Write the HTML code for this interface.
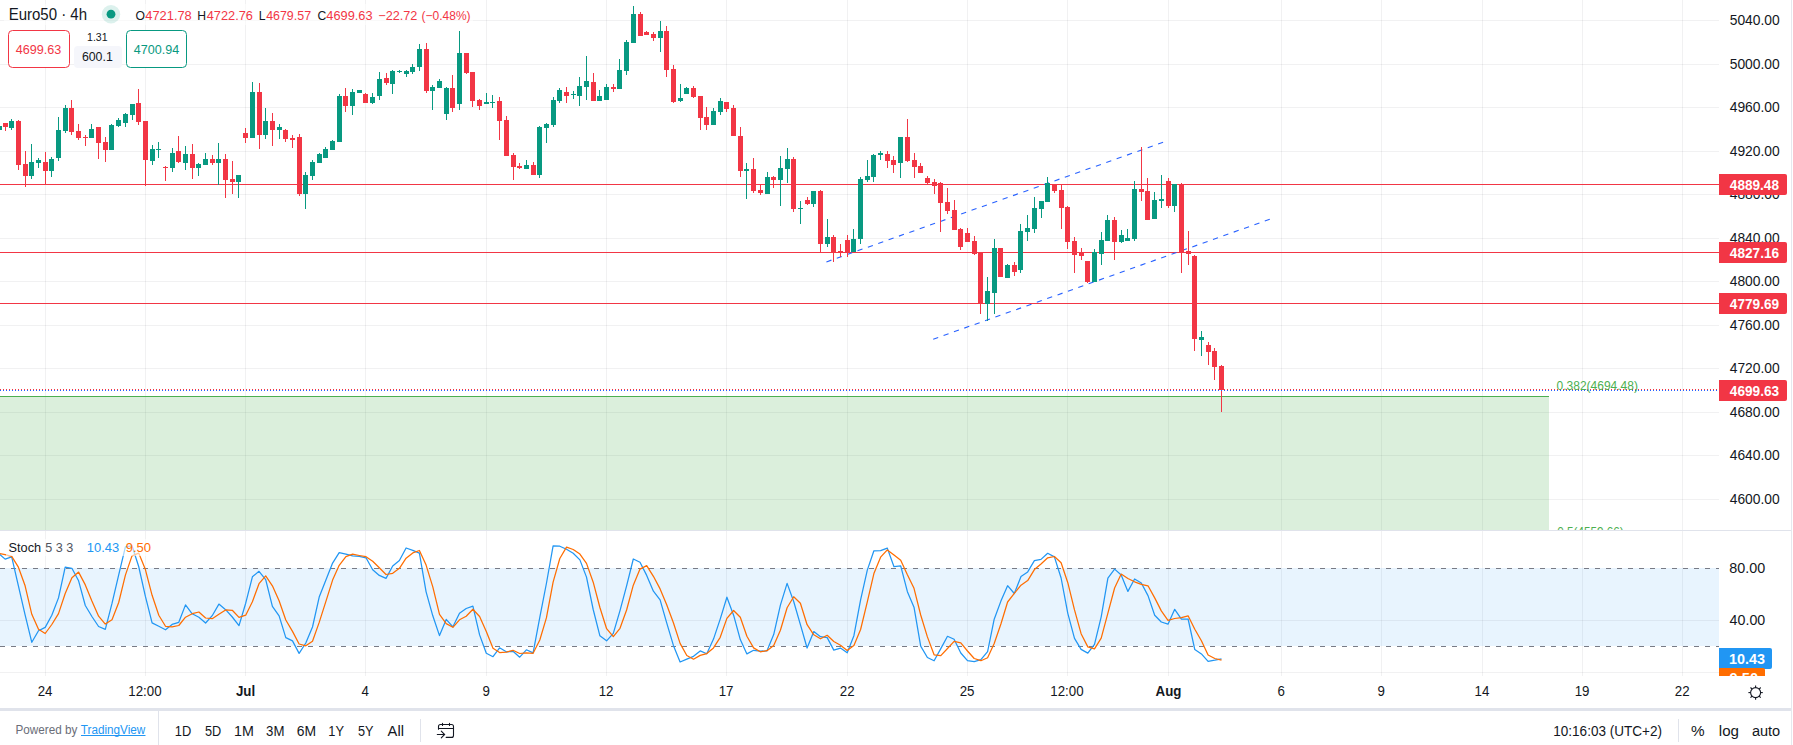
<!DOCTYPE html>
<html><head><meta charset="utf-8"><title>Euro50 chart</title><style>
html,body{margin:0;padding:0;background:#fff;}
body{width:1793px;height:745px;overflow:hidden;position:relative;font-family:"Liberation Sans",sans-serif;}
svg{position:absolute;left:0;top:0;display:block;font-family:"Liberation Sans",sans-serif;}
</style></head><body>
<svg width="1793" height="745" viewBox="0 0 1793 745">
<rect x="0" y="499" width="1719" height="1" fill="#2a2e39" fill-opacity="0.065"/>
<rect x="0" y="455" width="1719" height="1" fill="#2a2e39" fill-opacity="0.065"/>
<rect x="0" y="412" width="1719" height="1" fill="#2a2e39" fill-opacity="0.065"/>
<rect x="0" y="368" width="1719" height="1" fill="#2a2e39" fill-opacity="0.065"/>
<rect x="0" y="325" width="1719" height="1" fill="#2a2e39" fill-opacity="0.065"/>
<rect x="0" y="281" width="1719" height="1" fill="#2a2e39" fill-opacity="0.065"/>
<rect x="0" y="238" width="1719" height="1" fill="#2a2e39" fill-opacity="0.065"/>
<rect x="0" y="194" width="1719" height="1" fill="#2a2e39" fill-opacity="0.065"/>
<rect x="0" y="151" width="1719" height="1" fill="#2a2e39" fill-opacity="0.065"/>
<rect x="0" y="107" width="1719" height="1" fill="#2a2e39" fill-opacity="0.065"/>
<rect x="0" y="64" width="1719" height="1" fill="#2a2e39" fill-opacity="0.065"/>
<rect x="0" y="20" width="1719" height="1" fill="#2a2e39" fill-opacity="0.065"/>
<rect x="45" y="0" width="1" height="530" fill="#2a2e39" fill-opacity="0.065"/>
<rect x="45" y="531" width="1" height="145" fill="#2a2e39" fill-opacity="0.065"/>
<rect x="145" y="0" width="1" height="530" fill="#2a2e39" fill-opacity="0.065"/>
<rect x="145" y="531" width="1" height="145" fill="#2a2e39" fill-opacity="0.065"/>
<rect x="245" y="0" width="1" height="530" fill="#2a2e39" fill-opacity="0.065"/>
<rect x="245" y="531" width="1" height="145" fill="#2a2e39" fill-opacity="0.065"/>
<rect x="365" y="0" width="1" height="530" fill="#2a2e39" fill-opacity="0.065"/>
<rect x="365" y="531" width="1" height="145" fill="#2a2e39" fill-opacity="0.065"/>
<rect x="486" y="0" width="1" height="530" fill="#2a2e39" fill-opacity="0.065"/>
<rect x="486" y="531" width="1" height="145" fill="#2a2e39" fill-opacity="0.065"/>
<rect x="606" y="0" width="1" height="530" fill="#2a2e39" fill-opacity="0.065"/>
<rect x="606" y="531" width="1" height="145" fill="#2a2e39" fill-opacity="0.065"/>
<rect x="726" y="0" width="1" height="530" fill="#2a2e39" fill-opacity="0.065"/>
<rect x="726" y="531" width="1" height="145" fill="#2a2e39" fill-opacity="0.065"/>
<rect x="847" y="0" width="1" height="530" fill="#2a2e39" fill-opacity="0.065"/>
<rect x="847" y="531" width="1" height="145" fill="#2a2e39" fill-opacity="0.065"/>
<rect x="967" y="0" width="1" height="530" fill="#2a2e39" fill-opacity="0.065"/>
<rect x="967" y="531" width="1" height="145" fill="#2a2e39" fill-opacity="0.065"/>
<rect x="1067" y="0" width="1" height="530" fill="#2a2e39" fill-opacity="0.065"/>
<rect x="1067" y="531" width="1" height="145" fill="#2a2e39" fill-opacity="0.065"/>
<rect x="1168" y="0" width="1" height="530" fill="#2a2e39" fill-opacity="0.065"/>
<rect x="1168" y="531" width="1" height="145" fill="#2a2e39" fill-opacity="0.065"/>
<rect x="1281" y="0" width="1" height="530" fill="#2a2e39" fill-opacity="0.065"/>
<rect x="1281" y="531" width="1" height="145" fill="#2a2e39" fill-opacity="0.065"/>
<rect x="1381" y="0" width="1" height="530" fill="#2a2e39" fill-opacity="0.065"/>
<rect x="1381" y="531" width="1" height="145" fill="#2a2e39" fill-opacity="0.065"/>
<rect x="1482" y="0" width="1" height="530" fill="#2a2e39" fill-opacity="0.065"/>
<rect x="1482" y="531" width="1" height="145" fill="#2a2e39" fill-opacity="0.065"/>
<rect x="1582" y="0" width="1" height="530" fill="#2a2e39" fill-opacity="0.065"/>
<rect x="1582" y="531" width="1" height="145" fill="#2a2e39" fill-opacity="0.065"/>
<rect x="1682" y="0" width="1" height="530" fill="#2a2e39" fill-opacity="0.065"/>
<rect x="1682" y="531" width="1" height="145" fill="#2a2e39" fill-opacity="0.065"/>
<rect x="0" y="396" width="1549" height="134" fill="#4caf50" fill-opacity="0.2"/>
<rect x="0" y="396" width="1549" height="1" fill="#4caf50"/>
<rect x="0" y="184" width="1719" height="1" fill="#f23645"/>
<rect x="0" y="252" width="1719" height="1" fill="#f23645"/>
<rect x="0" y="303" width="1719" height="1" fill="#f23645"/>
<line x1="826.4" y1="261.9" x2="1163.1" y2="142.3" stroke="#2962ff" stroke-width="1.1" stroke-dasharray="5.3,5.7"/>
<line x1="933.2" y1="339.2" x2="1270" y2="219.2" stroke="#2962ff" stroke-width="1.1" stroke-dasharray="5.3,5.7"/>
<g shape-rendering="crispEdges"><rect x="-1" y="126" width="1" height="5" fill="#089981"/><rect x="-3" y="126" width="5" height="4" fill="#089981"/><rect x="5" y="123" width="1" height="8" fill="#f23645"/><rect x="3" y="123" width="5" height="4" fill="#f23645"/><rect x="11" y="119" width="1" height="11" fill="#089981"/><rect x="9" y="121" width="5" height="7" fill="#089981"/><rect x="18" y="120" width="1" height="50" fill="#f23645"/><rect x="16" y="121" width="5" height="44" fill="#f23645"/><rect x="25" y="151" width="1" height="36" fill="#f23645"/><rect x="23" y="164" width="5" height="12" fill="#f23645"/><rect x="31" y="144" width="1" height="35" fill="#089981"/><rect x="29" y="162" width="5" height="14" fill="#089981"/><rect x="38" y="158" width="1" height="10" fill="#089981"/><rect x="36" y="160" width="5" height="3" fill="#089981"/><rect x="45" y="152" width="1" height="32" fill="#f23645"/><rect x="43" y="162" width="5" height="9" fill="#f23645"/><rect x="51" y="157" width="1" height="20" fill="#089981"/><rect x="49" y="159" width="5" height="12" fill="#089981"/><rect x="58" y="117" width="1" height="44" fill="#089981"/><rect x="56" y="130" width="5" height="28" fill="#089981"/><rect x="65" y="105" width="1" height="28" fill="#089981"/><rect x="63" y="108" width="5" height="23" fill="#089981"/><rect x="71" y="100" width="1" height="35" fill="#f23645"/><rect x="69" y="108" width="5" height="24" fill="#f23645"/><rect x="78" y="124" width="1" height="16" fill="#f23645"/><rect x="76" y="131" width="5" height="7" fill="#f23645"/><rect x="85" y="135" width="1" height="11" fill="#f23645"/><rect x="83" y="137" width="5" height="1" fill="#f23645"/><rect x="91" y="124" width="1" height="14" fill="#089981"/><rect x="89" y="129" width="5" height="9" fill="#089981"/><rect x="98" y="127" width="1" height="32" fill="#f23645"/><rect x="96" y="127" width="5" height="16" fill="#f23645"/><rect x="105" y="137" width="1" height="25" fill="#f23645"/><rect x="103" y="142" width="5" height="8" fill="#f23645"/><rect x="111" y="124" width="1" height="26" fill="#089981"/><rect x="109" y="125" width="5" height="25" fill="#089981"/><rect x="118" y="118" width="1" height="9" fill="#089981"/><rect x="116" y="120" width="5" height="6" fill="#089981"/><rect x="125" y="113" width="1" height="14" fill="#089981"/><rect x="123" y="114" width="5" height="9" fill="#089981"/><rect x="132" y="104" width="1" height="16" fill="#089981"/><rect x="130" y="104" width="5" height="11" fill="#089981"/><rect x="138" y="89" width="1" height="36" fill="#f23645"/><rect x="136" y="103" width="5" height="19" fill="#f23645"/><rect x="145" y="121" width="1" height="65" fill="#f23645"/><rect x="143" y="121" width="5" height="39" fill="#f23645"/><rect x="152" y="145" width="1" height="20" fill="#089981"/><rect x="150" y="149" width="5" height="12" fill="#089981"/><rect x="158" y="142" width="1" height="16" fill="#089981"/><rect x="156" y="149" width="5" height="1" fill="#089981"/><rect x="165" y="166" width="1" height="15" fill="#f23645"/><rect x="163" y="167" width="5" height="1" fill="#f23645"/><rect x="172" y="148" width="1" height="24" fill="#089981"/><rect x="170" y="153" width="5" height="15" fill="#089981"/><rect x="178" y="136" width="1" height="27" fill="#f23645"/><rect x="176" y="151" width="5" height="11" fill="#f23645"/><rect x="185" y="146" width="1" height="24" fill="#089981"/><rect x="183" y="154" width="5" height="9" fill="#089981"/><rect x="192" y="144" width="1" height="35" fill="#f23645"/><rect x="190" y="154" width="5" height="14" fill="#f23645"/><rect x="198" y="163" width="1" height="13" fill="#089981"/><rect x="196" y="164" width="5" height="4" fill="#089981"/><rect x="205" y="153" width="1" height="12" fill="#089981"/><rect x="203" y="159" width="5" height="6" fill="#089981"/><rect x="212" y="155" width="1" height="10" fill="#f23645"/><rect x="210" y="159" width="5" height="4" fill="#f23645"/><rect x="218" y="143" width="1" height="42" fill="#089981"/><rect x="216" y="159" width="5" height="4" fill="#089981"/><rect x="225" y="154" width="1" height="44" fill="#f23645"/><rect x="223" y="159" width="5" height="21" fill="#f23645"/><rect x="232" y="161" width="1" height="33" fill="#f23645"/><rect x="230" y="179" width="5" height="3" fill="#f23645"/><rect x="238" y="175" width="1" height="23" fill="#089981"/><rect x="236" y="175" width="5" height="7" fill="#089981"/><rect x="245" y="128" width="1" height="15" fill="#f23645"/><rect x="243" y="133" width="5" height="5" fill="#f23645"/><rect x="252" y="82" width="1" height="56" fill="#089981"/><rect x="250" y="92" width="5" height="46" fill="#089981"/><rect x="259" y="83" width="1" height="66" fill="#f23645"/><rect x="257" y="92" width="5" height="43" fill="#f23645"/><rect x="265" y="108" width="1" height="31" fill="#089981"/><rect x="263" y="121" width="5" height="14" fill="#089981"/><rect x="272" y="113" width="1" height="33" fill="#f23645"/><rect x="270" y="121" width="5" height="9" fill="#f23645"/><rect x="279" y="124" width="1" height="15" fill="#089981"/><rect x="277" y="127" width="5" height="3" fill="#089981"/><rect x="285" y="129" width="1" height="13" fill="#f23645"/><rect x="283" y="130" width="5" height="9" fill="#f23645"/><rect x="292" y="135" width="1" height="13" fill="#f23645"/><rect x="290" y="138" width="5" height="2" fill="#f23645"/><rect x="299" y="134" width="1" height="62" fill="#f23645"/><rect x="297" y="137" width="5" height="57" fill="#f23645"/><rect x="305" y="172" width="1" height="37" fill="#089981"/><rect x="303" y="175" width="5" height="19" fill="#089981"/><rect x="312" y="160" width="1" height="20" fill="#089981"/><rect x="310" y="162" width="5" height="14" fill="#089981"/><rect x="319" y="153" width="1" height="10" fill="#089981"/><rect x="317" y="154" width="5" height="9" fill="#089981"/><rect x="325" y="147" width="1" height="11" fill="#089981"/><rect x="323" y="149" width="5" height="9" fill="#089981"/><rect x="332" y="140" width="1" height="10" fill="#089981"/><rect x="330" y="141" width="5" height="9" fill="#089981"/><rect x="339" y="94" width="1" height="48" fill="#089981"/><rect x="337" y="96" width="5" height="46" fill="#089981"/><rect x="345" y="88" width="1" height="24" fill="#f23645"/><rect x="343" y="96" width="5" height="10" fill="#f23645"/><rect x="352" y="89" width="1" height="26" fill="#089981"/><rect x="350" y="92" width="5" height="14" fill="#089981"/><rect x="359" y="90" width="1" height="3" fill="#089981"/><rect x="357" y="90" width="5" height="3" fill="#089981"/><rect x="365" y="93" width="1" height="10" fill="#f23645"/><rect x="363" y="94" width="5" height="9" fill="#f23645"/><rect x="372" y="93" width="1" height="11" fill="#089981"/><rect x="370" y="97" width="5" height="6" fill="#089981"/><rect x="379" y="72" width="1" height="28" fill="#089981"/><rect x="377" y="79" width="5" height="17" fill="#089981"/><rect x="386" y="73" width="1" height="12" fill="#f23645"/><rect x="384" y="78" width="5" height="5" fill="#f23645"/><rect x="392" y="70" width="1" height="24" fill="#089981"/><rect x="390" y="71" width="5" height="13" fill="#089981"/><rect x="399" y="70" width="1" height="3" fill="#089981"/><rect x="397" y="71" width="5" height="1" fill="#089981"/><rect x="406" y="70" width="1" height="7" fill="#089981"/><rect x="404" y="71" width="5" height="3" fill="#089981"/><rect x="412" y="64" width="1" height="10" fill="#089981"/><rect x="410" y="67" width="5" height="5" fill="#089981"/><rect x="419" y="44" width="1" height="27" fill="#089981"/><rect x="417" y="49" width="5" height="18" fill="#089981"/><rect x="426" y="43" width="1" height="50" fill="#f23645"/><rect x="424" y="49" width="5" height="42" fill="#f23645"/><rect x="432" y="85" width="1" height="25" fill="#089981"/><rect x="430" y="87" width="5" height="4" fill="#089981"/><rect x="439" y="79" width="1" height="9" fill="#089981"/><rect x="437" y="81" width="5" height="7" fill="#089981"/><rect x="446" y="87" width="1" height="33" fill="#089981"/><rect x="444" y="88" width="5" height="26" fill="#089981"/><rect x="452" y="75" width="1" height="37" fill="#f23645"/><rect x="450" y="88" width="5" height="20" fill="#f23645"/><rect x="459" y="31" width="1" height="79" fill="#089981"/><rect x="457" y="53" width="5" height="51" fill="#089981"/><rect x="466" y="53" width="1" height="21" fill="#f23645"/><rect x="464" y="53" width="5" height="20" fill="#f23645"/><rect x="472" y="72" width="1" height="35" fill="#f23645"/><rect x="470" y="72" width="5" height="29" fill="#f23645"/><rect x="479" y="99" width="1" height="11" fill="#f23645"/><rect x="477" y="100" width="5" height="6" fill="#f23645"/><rect x="486" y="93" width="1" height="11" fill="#089981"/><rect x="484" y="102" width="5" height="2" fill="#089981"/><rect x="492" y="95" width="1" height="13" fill="#089981"/><rect x="490" y="102" width="5" height="1" fill="#089981"/><rect x="499" y="97" width="1" height="43" fill="#f23645"/><rect x="497" y="101" width="5" height="20" fill="#f23645"/><rect x="506" y="116" width="1" height="40" fill="#f23645"/><rect x="504" y="120" width="5" height="36" fill="#f23645"/><rect x="513" y="153" width="1" height="27" fill="#f23645"/><rect x="511" y="155" width="5" height="12" fill="#f23645"/><rect x="519" y="163" width="1" height="6" fill="#f23645"/><rect x="517" y="166" width="5" height="2" fill="#f23645"/><rect x="526" y="160" width="1" height="9" fill="#089981"/><rect x="524" y="165" width="5" height="4" fill="#089981"/><rect x="533" y="162" width="1" height="13" fill="#f23645"/><rect x="531" y="165" width="5" height="10" fill="#f23645"/><rect x="539" y="126" width="1" height="52" fill="#089981"/><rect x="537" y="127" width="5" height="48" fill="#089981"/><rect x="546" y="123" width="1" height="20" fill="#089981"/><rect x="544" y="124" width="5" height="4" fill="#089981"/><rect x="553" y="97" width="1" height="30" fill="#089981"/><rect x="551" y="100" width="5" height="25" fill="#089981"/><rect x="559" y="88" width="1" height="15" fill="#089981"/><rect x="557" y="90" width="5" height="11" fill="#089981"/><rect x="566" y="87" width="1" height="16" fill="#f23645"/><rect x="564" y="92" width="5" height="4" fill="#f23645"/><rect x="573" y="91" width="1" height="8" fill="#089981"/><rect x="571" y="94" width="5" height="1" fill="#089981"/><rect x="579" y="77" width="1" height="29" fill="#089981"/><rect x="577" y="86" width="5" height="10" fill="#089981"/><rect x="586" y="56" width="1" height="44" fill="#089981"/><rect x="584" y="81" width="5" height="6" fill="#089981"/><rect x="593" y="73" width="1" height="28" fill="#f23645"/><rect x="591" y="82" width="5" height="19" fill="#f23645"/><rect x="599" y="90" width="1" height="11" fill="#089981"/><rect x="597" y="96" width="5" height="5" fill="#089981"/><rect x="606" y="84" width="1" height="16" fill="#089981"/><rect x="604" y="87" width="5" height="13" fill="#089981"/><rect x="613" y="84" width="1" height="8" fill="#f23645"/><rect x="611" y="87" width="5" height="2" fill="#f23645"/><rect x="619" y="59" width="1" height="30" fill="#089981"/><rect x="617" y="70" width="5" height="19" fill="#089981"/><rect x="626" y="40" width="1" height="35" fill="#089981"/><rect x="624" y="42" width="5" height="29" fill="#089981"/><rect x="633" y="6" width="1" height="37" fill="#089981"/><rect x="631" y="14" width="5" height="29" fill="#089981"/><rect x="640" y="12" width="1" height="24" fill="#f23645"/><rect x="638" y="14" width="5" height="22" fill="#f23645"/><rect x="646" y="31" width="1" height="4" fill="#f23645"/><rect x="644" y="32" width="5" height="3" fill="#f23645"/><rect x="653" y="32" width="1" height="9" fill="#f23645"/><rect x="651" y="34" width="5" height="4" fill="#f23645"/><rect x="660" y="21" width="1" height="31" fill="#089981"/><rect x="658" y="31" width="5" height="7" fill="#089981"/><rect x="666" y="26" width="1" height="51" fill="#f23645"/><rect x="664" y="31" width="5" height="39" fill="#f23645"/><rect x="673" y="65" width="1" height="38" fill="#f23645"/><rect x="671" y="69" width="5" height="33" fill="#f23645"/><rect x="680" y="84" width="1" height="18" fill="#089981"/><rect x="678" y="98" width="5" height="3" fill="#089981"/><rect x="686" y="87" width="1" height="7" fill="#089981"/><rect x="684" y="88" width="5" height="6" fill="#089981"/><rect x="693" y="86" width="1" height="12" fill="#f23645"/><rect x="691" y="88" width="5" height="9" fill="#f23645"/><rect x="700" y="96" width="1" height="34" fill="#f23645"/><rect x="698" y="96" width="5" height="22" fill="#f23645"/><rect x="706" y="107" width="1" height="23" fill="#f23645"/><rect x="704" y="117" width="5" height="8" fill="#f23645"/><rect x="713" y="108" width="1" height="17" fill="#089981"/><rect x="711" y="111" width="5" height="14" fill="#089981"/><rect x="720" y="98" width="1" height="17" fill="#089981"/><rect x="718" y="101" width="5" height="11" fill="#089981"/><rect x="726" y="102" width="1" height="10" fill="#f23645"/><rect x="724" y="102" width="5" height="7" fill="#f23645"/><rect x="733" y="105" width="1" height="31" fill="#f23645"/><rect x="731" y="108" width="5" height="28" fill="#f23645"/><rect x="740" y="127" width="1" height="50" fill="#f23645"/><rect x="738" y="136" width="5" height="35" fill="#f23645"/><rect x="746" y="163" width="1" height="36" fill="#089981"/><rect x="744" y="169" width="5" height="2" fill="#089981"/><rect x="753" y="158" width="1" height="35" fill="#f23645"/><rect x="751" y="169" width="5" height="22" fill="#f23645"/><rect x="760" y="184" width="1" height="11" fill="#f23645"/><rect x="758" y="190" width="5" height="3" fill="#f23645"/><rect x="767" y="172" width="1" height="22" fill="#089981"/><rect x="765" y="177" width="5" height="17" fill="#089981"/><rect x="773" y="176" width="1" height="12" fill="#f23645"/><rect x="771" y="177" width="5" height="3" fill="#f23645"/><rect x="780" y="156" width="1" height="50" fill="#089981"/><rect x="778" y="168" width="5" height="12" fill="#089981"/><rect x="787" y="148" width="1" height="35" fill="#089981"/><rect x="785" y="159" width="5" height="10" fill="#089981"/><rect x="793" y="157" width="1" height="55" fill="#f23645"/><rect x="791" y="159" width="5" height="50" fill="#f23645"/><rect x="800" y="201" width="1" height="23" fill="#089981"/><rect x="798" y="208" width="5" height="1" fill="#089981"/><rect x="807" y="197" width="1" height="8" fill="#f23645"/><rect x="805" y="200" width="5" height="4" fill="#f23645"/><rect x="813" y="191" width="1" height="16" fill="#089981"/><rect x="811" y="191" width="5" height="13" fill="#089981"/><rect x="820" y="190" width="1" height="62" fill="#f23645"/><rect x="818" y="191" width="5" height="53" fill="#f23645"/><rect x="827" y="219" width="1" height="28" fill="#089981"/><rect x="825" y="237" width="5" height="7" fill="#089981"/><rect x="833" y="235" width="1" height="27" fill="#f23645"/><rect x="831" y="237" width="5" height="15" fill="#f23645"/><rect x="840" y="244" width="1" height="13" fill="#f23645"/><rect x="838" y="251" width="5" height="2" fill="#f23645"/><rect x="847" y="235" width="1" height="22" fill="#f23645"/><rect x="845" y="240" width="5" height="12" fill="#f23645"/><rect x="853" y="229" width="1" height="23" fill="#089981"/><rect x="851" y="239" width="5" height="13" fill="#089981"/><rect x="860" y="177" width="1" height="67" fill="#089981"/><rect x="858" y="179" width="5" height="60" fill="#089981"/><rect x="867" y="160" width="1" height="22" fill="#089981"/><rect x="865" y="176" width="5" height="4" fill="#089981"/><rect x="873" y="154" width="1" height="28" fill="#089981"/><rect x="871" y="155" width="5" height="22" fill="#089981"/><rect x="880" y="151" width="1" height="9" fill="#089981"/><rect x="878" y="153" width="5" height="2" fill="#089981"/><rect x="887" y="151" width="1" height="17" fill="#f23645"/><rect x="885" y="154" width="5" height="7" fill="#f23645"/><rect x="893" y="156" width="1" height="17" fill="#f23645"/><rect x="891" y="160" width="5" height="5" fill="#f23645"/><rect x="900" y="137" width="1" height="41" fill="#089981"/><rect x="898" y="137" width="5" height="26" fill="#089981"/><rect x="907" y="119" width="1" height="43" fill="#f23645"/><rect x="905" y="137" width="5" height="24" fill="#f23645"/><rect x="914" y="153" width="1" height="25" fill="#f23645"/><rect x="912" y="160" width="5" height="7" fill="#f23645"/><rect x="920" y="163" width="1" height="10" fill="#f23645"/><rect x="918" y="166" width="5" height="7" fill="#f23645"/><rect x="927" y="176" width="1" height="9" fill="#f23645"/><rect x="925" y="178" width="5" height="5" fill="#f23645"/><rect x="934" y="179" width="1" height="15" fill="#f23645"/><rect x="932" y="182" width="5" height="4" fill="#f23645"/><rect x="940" y="182" width="1" height="50" fill="#f23645"/><rect x="938" y="183" width="5" height="20" fill="#f23645"/><rect x="947" y="188" width="1" height="26" fill="#f23645"/><rect x="945" y="202" width="5" height="9" fill="#f23645"/><rect x="954" y="200" width="1" height="30" fill="#f23645"/><rect x="952" y="210" width="5" height="20" fill="#f23645"/><rect x="960" y="228" width="1" height="22" fill="#f23645"/><rect x="958" y="229" width="5" height="18" fill="#f23645"/><rect x="967" y="228" width="1" height="14" fill="#f23645"/><rect x="965" y="233" width="5" height="9" fill="#f23645"/><rect x="974" y="236" width="1" height="19" fill="#f23645"/><rect x="972" y="241" width="5" height="13" fill="#f23645"/><rect x="980" y="252" width="1" height="62" fill="#f23645"/><rect x="978" y="252" width="5" height="52" fill="#f23645"/><rect x="987" y="277" width="1" height="44" fill="#089981"/><rect x="985" y="291" width="5" height="13" fill="#089981"/><rect x="994" y="239" width="1" height="75" fill="#089981"/><rect x="992" y="248" width="5" height="45" fill="#089981"/><rect x="1000" y="248" width="1" height="29" fill="#f23645"/><rect x="998" y="248" width="5" height="29" fill="#f23645"/><rect x="1007" y="264" width="1" height="14" fill="#089981"/><rect x="1005" y="265" width="5" height="13" fill="#089981"/><rect x="1014" y="262" width="1" height="14" fill="#f23645"/><rect x="1012" y="265" width="5" height="7" fill="#f23645"/><rect x="1020" y="224" width="1" height="49" fill="#089981"/><rect x="1018" y="231" width="5" height="39" fill="#089981"/><rect x="1027" y="215" width="1" height="26" fill="#089981"/><rect x="1025" y="228" width="5" height="4" fill="#089981"/><rect x="1034" y="197" width="1" height="36" fill="#089981"/><rect x="1032" y="208" width="5" height="21" fill="#089981"/><rect x="1041" y="201" width="1" height="17" fill="#089981"/><rect x="1039" y="201" width="5" height="8" fill="#089981"/><rect x="1047" y="177" width="1" height="25" fill="#089981"/><rect x="1045" y="183" width="5" height="19" fill="#089981"/><rect x="1054" y="184" width="1" height="9" fill="#f23645"/><rect x="1052" y="184" width="5" height="7" fill="#f23645"/><rect x="1061" y="185" width="1" height="44" fill="#f23645"/><rect x="1059" y="190" width="5" height="18" fill="#f23645"/><rect x="1067" y="206" width="1" height="43" fill="#f23645"/><rect x="1065" y="207" width="5" height="35" fill="#f23645"/><rect x="1074" y="237" width="1" height="36" fill="#f23645"/><rect x="1072" y="241" width="5" height="14" fill="#f23645"/><rect x="1081" y="248" width="1" height="12" fill="#f23645"/><rect x="1079" y="252" width="5" height="4" fill="#f23645"/><rect x="1087" y="261" width="1" height="22" fill="#f23645"/><rect x="1085" y="261" width="5" height="21" fill="#f23645"/><rect x="1094" y="249" width="1" height="33" fill="#089981"/><rect x="1092" y="252" width="5" height="30" fill="#089981"/><rect x="1101" y="232" width="1" height="33" fill="#089981"/><rect x="1099" y="240" width="5" height="14" fill="#089981"/><rect x="1107" y="215" width="1" height="26" fill="#089981"/><rect x="1105" y="220" width="5" height="21" fill="#089981"/><rect x="1114" y="217" width="1" height="43" fill="#f23645"/><rect x="1112" y="220" width="5" height="22" fill="#f23645"/><rect x="1121" y="230" width="1" height="13" fill="#089981"/><rect x="1119" y="235" width="5" height="7" fill="#089981"/><rect x="1127" y="229" width="1" height="12" fill="#089981"/><rect x="1125" y="238" width="5" height="3" fill="#089981"/><rect x="1134" y="181" width="1" height="60" fill="#089981"/><rect x="1132" y="189" width="5" height="50" fill="#089981"/><rect x="1141" y="147" width="1" height="54" fill="#f23645"/><rect x="1139" y="189" width="5" height="3" fill="#f23645"/><rect x="1147" y="178" width="1" height="42" fill="#f23645"/><rect x="1145" y="191" width="5" height="29" fill="#f23645"/><rect x="1154" y="192" width="1" height="27" fill="#089981"/><rect x="1152" y="200" width="5" height="19" fill="#089981"/><rect x="1161" y="175" width="1" height="33" fill="#089981"/><rect x="1159" y="199" width="5" height="2" fill="#089981"/><rect x="1168" y="178" width="1" height="30" fill="#f23645"/><rect x="1166" y="181" width="5" height="25" fill="#f23645"/><rect x="1174" y="184" width="1" height="28" fill="#089981"/><rect x="1172" y="184" width="5" height="22" fill="#089981"/><rect x="1181" y="183" width="1" height="90" fill="#f23645"/><rect x="1179" y="184" width="5" height="68" fill="#f23645"/><rect x="1188" y="231" width="1" height="34" fill="#f23645"/><rect x="1186" y="251" width="5" height="3" fill="#f23645"/><rect x="1194" y="255" width="1" height="96" fill="#f23645"/><rect x="1192" y="256" width="5" height="83" fill="#f23645"/><rect x="1201" y="331" width="1" height="25" fill="#089981"/><rect x="1199" y="337" width="5" height="3" fill="#089981"/><rect x="1208" y="342" width="1" height="23" fill="#f23645"/><rect x="1206" y="345" width="5" height="7" fill="#f23645"/><rect x="1214" y="348" width="1" height="32" fill="#f23645"/><rect x="1212" y="351" width="5" height="16" fill="#f23645"/><rect x="1221" y="365" width="1" height="47" fill="#f23645"/><rect x="1219" y="366" width="5" height="24" fill="#f23645"/></g>
<line x1="0" y1="389.5" x2="1719" y2="389.5" stroke="#f23645" stroke-width="1" stroke-dasharray="1,2" shape-rendering="crispEdges"/>
<line x1="0" y1="390.5" x2="1719" y2="390.5" stroke="#2962ff" stroke-width="1" stroke-dasharray="1,2" shape-rendering="crispEdges"/>
<rect x="0" y="530" width="1791" height="1" fill="#e0e3eb"/>
<rect x="0" y="568" width="1719" height="78" fill="#2196f3" fill-opacity="0.1"/>
<rect x="0" y="620" width="1719" height="1" fill="#2a2e39" fill-opacity="0.065"/>
<rect x="0" y="672" width="1719" height="1" fill="#2a2e39" fill-opacity="0.065"/>
<line x1="0" y1="568.5" x2="1719" y2="568.5" stroke="#787b86" stroke-width="1" stroke-dasharray="5,6" shape-rendering="crispEdges"/>
<line x1="0" y1="646.5" x2="1719" y2="646.5" stroke="#787b86" stroke-width="1" stroke-dasharray="5,6" shape-rendering="crispEdges"/>
<polyline points="-1.6,553.2 5.1,559.1 11.7,556.8 18.4,585.8 25.1,614.9 31.8,642.3 38.5,630.8 45.2,627.4 51.8,615.3 58.5,597.9 65.2,567.2 71.9,568.3 78.6,580.8 85.3,605.5 91.9,616.5 98.6,626.5 105.3,629.3 112.0,603.4 118.7,574.9 125.4,546.9 132.0,545.8 138.7,566.5 145.4,596.4 152.1,622.9 158.8,626.3 165.5,629.8 172.1,624.4 178.8,622.3 185.5,604.9 192.2,613.8 198.9,617.3 205.6,623.0 212.2,615.7 218.9,604.1 225.6,609.7 232.3,617.0 239.0,625.6 245.7,603.2 252.4,576.8 259.0,571.3 265.7,579.7 272.4,606.4 279.1,615.9 285.8,637.6 292.5,640.9 299.1,653.4 305.8,643.0 312.5,627.0 319.2,597.1 325.9,580.1 332.6,563.1 339.2,552.6 345.9,554.1 352.6,555.9 359.3,556.4 366.0,557.8 372.7,569.8 379.3,575.4 386.0,578.4 392.7,566.0 399.4,560.5 406.1,548.0 412.8,550.3 419.4,553.1 426.1,591.8 432.8,615.8 439.5,635.6 446.2,619.4 452.9,626.8 459.5,613.3 466.2,608.5 472.9,606.2 479.6,634.9 486.3,653.3 493.0,656.7 499.6,647.8 506.3,651.8 513.0,651.3 519.7,657.2 526.4,649.8 533.1,652.9 539.8,617.3 546.4,583.5 553.1,545.8 559.8,546.2 566.5,549.2 573.2,553.2 579.9,559.9 586.5,577.1 593.2,609.5 599.9,635.8 606.6,640.8 613.3,633.4 620.0,610.6 626.6,585.9 633.3,559.0 640.0,562.3 646.7,575.4 653.4,591.2 660.1,599.9 666.7,622.9 673.4,645.4 680.1,662.0 686.8,659.1 693.5,656.3 700.2,650.9 706.8,653.8 713.5,639.1 720.2,619.1 726.9,597.2 733.6,615.2 740.3,639.6 746.9,653.9 753.6,650.3 760.3,651.1 767.0,650.8 773.7,634.6 780.4,605.1 787.1,583.4 793.7,601.5 800.4,624.7 807.1,648.0 813.8,631.6 820.5,636.7 827.2,637.6 833.8,650.1 840.5,648.1 847.2,652.8 853.9,635.7 860.6,599.9 867.3,570.1 873.9,550.8 880.6,550.7 887.3,548.1 894.0,566.7 900.7,565.9 907.4,591.7 914.0,607.2 920.7,646.1 927.4,657.5 934.1,660.8 940.8,648.6 947.5,636.3 954.1,639.3 960.8,653.0 967.5,660.7 974.2,661.6 980.9,659.7 987.6,651.7 994.2,619.2 1000.9,601.1 1007.6,585.7 1014.3,593.5 1021.0,576.5 1027.7,571.9 1034.4,560.6 1041.0,559.4 1047.7,553.3 1054.4,556.9 1061.1,578.0 1067.8,613.3 1074.5,638.4 1081.1,649.4 1087.8,653.1 1094.5,644.3 1101.2,616.8 1107.9,578.1 1114.6,569.1 1121.2,575.0 1127.9,591.4 1134.6,579.0 1141.3,583.0 1148.0,595.6 1154.7,615.2 1161.3,622.0 1168.0,624.2 1174.7,609.3 1181.4,619.2 1188.1,619.0 1194.8,649.6 1201.4,653.9 1208.1,661.3 1214.8,660.2 1221.5,658.9" fill="none" stroke="#2196f3" stroke-width="1.25" stroke-linejoin="round"/>
<polyline points="-1.6,553.2 5.1,554.7 11.7,556.4 18.4,567.2 25.1,585.8 31.8,614.3 38.5,629.3 45.2,633.5 51.8,624.5 58.5,613.6 65.2,593.5 71.9,577.8 78.6,572.1 85.3,584.9 91.9,601.0 98.6,616.2 105.3,624.1 112.0,619.7 118.7,602.5 125.4,575.1 132.0,555.9 138.7,553.1 145.4,569.6 152.1,595.3 158.8,615.2 165.5,626.3 172.1,626.8 178.8,625.5 185.5,617.2 192.2,613.7 198.9,612.0 205.6,618.0 212.2,618.7 218.9,614.3 225.6,609.9 232.3,610.3 239.0,617.4 245.7,615.2 252.4,601.8 259.0,583.7 265.7,575.9 272.4,585.8 279.1,600.7 285.8,620.0 292.5,631.4 299.1,644.0 305.8,645.8 312.5,641.2 319.2,622.4 325.9,601.4 332.6,580.1 339.2,565.3 345.9,556.6 352.6,554.2 359.3,555.5 366.0,556.7 372.7,561.3 379.3,567.7 386.0,574.5 392.7,573.3 399.4,568.3 406.1,558.2 412.8,552.9 419.4,550.5 426.1,565.1 432.8,586.9 439.5,614.4 446.2,623.6 452.9,627.3 459.5,619.8 466.2,616.2 472.9,609.3 479.6,616.5 486.3,631.5 493.0,648.3 499.6,652.6 506.3,652.1 513.0,650.3 519.7,653.5 526.4,652.8 533.1,653.3 539.8,640.0 546.4,617.9 553.1,582.2 559.8,558.5 566.5,547.1 573.2,549.5 579.9,554.1 586.5,563.4 593.2,582.2 599.9,607.5 606.6,628.7 613.3,636.7 620.0,628.3 626.6,610.0 633.3,585.2 640.0,569.1 646.7,565.6 653.4,576.3 660.1,588.9 666.7,604.7 673.4,622.7 680.1,643.4 686.8,655.5 693.5,659.2 700.2,655.4 706.8,653.6 713.5,647.9 720.2,637.3 726.9,618.4 733.6,610.5 740.3,617.3 746.9,636.2 753.6,647.9 760.3,651.8 767.0,650.7 773.7,645.5 780.4,630.2 787.1,607.7 793.7,596.7 800.4,603.2 807.1,624.7 813.8,634.8 820.5,638.8 827.2,635.3 833.8,641.5 840.5,645.3 847.2,650.4 853.9,645.5 860.6,629.5 867.3,601.9 873.9,573.6 880.6,557.2 887.3,549.9 894.0,555.1 900.7,560.2 907.4,574.8 914.0,588.3 920.7,615.0 927.4,636.9 934.1,654.8 940.8,655.6 947.5,648.5 954.1,641.4 960.8,642.9 967.5,651.0 974.2,658.5 980.9,660.7 987.6,657.7 994.2,643.5 1000.9,624.0 1007.6,602.0 1014.3,593.4 1021.0,585.2 1027.7,580.6 1034.4,569.6 1041.0,564.0 1047.7,557.8 1054.4,556.5 1061.1,562.7 1067.8,582.7 1074.5,609.9 1081.1,633.7 1087.8,646.9 1094.5,648.9 1101.2,638.1 1107.9,613.1 1114.6,588.0 1121.2,574.1 1127.9,578.5 1134.6,581.8 1141.3,584.4 1148.0,585.8 1154.7,597.9 1161.3,610.9 1168.0,620.4 1174.7,618.5 1181.4,617.6 1188.1,615.8 1194.8,629.3 1201.4,640.8 1208.1,655.0 1214.8,658.5 1221.5,660.1" fill="none" stroke="#ff6d00" stroke-width="1.25" stroke-linejoin="round"/>
<rect x="0" y="708" width="1791" height="3" fill="#e0e3eb"/>
<rect x="1791" y="0" width="1" height="745" fill="#e6e8ee"/>
<rect x="158" y="711" width="1" height="34" fill="#e0e3eb"/>
<rect x="420" y="719" width="1" height="23" fill="#e0e3eb"/>
<rect x="1678" y="719" width="1" height="23" fill="#e0e3eb"/>
<circle cx="1755.6" cy="692.6" r="5" fill="none" stroke="#131722" stroke-width="1.1"/><line x1="1760.60" y1="692.60" x2="1762.80" y2="692.60" stroke="#131722" stroke-width="1.1"/><line x1="1759.14" y1="696.14" x2="1760.69" y2="697.69" stroke="#131722" stroke-width="1.1"/><line x1="1755.60" y1="697.60" x2="1755.60" y2="699.80" stroke="#131722" stroke-width="1.1"/><line x1="1752.06" y1="696.14" x2="1750.51" y2="697.69" stroke="#131722" stroke-width="1.1"/><line x1="1750.60" y1="692.60" x2="1748.40" y2="692.60" stroke="#131722" stroke-width="1.1"/><line x1="1752.06" y1="689.06" x2="1750.51" y2="687.51" stroke="#131722" stroke-width="1.1"/><line x1="1755.60" y1="687.60" x2="1755.60" y2="685.40" stroke="#131722" stroke-width="1.1"/><line x1="1759.14" y1="689.06" x2="1760.69" y2="687.51" stroke="#131722" stroke-width="1.1"/>
<g fill="none" stroke="#131722" stroke-width="1.1" stroke-linecap="round"><path d="M438.5 729.3V726.5a2 2 0 0 1 2 -2H451.5a2 2 0 0 1 2 2V735.4a2 2 0 0 1 -2 2H446.2"/><path d="M438.5 728.5H453.5"/><path d="M442.5 723.4V725.5M449.5 723.4V725.5"/><path d="M437.3 734.5H444.6M441.3 731.2L444.6 734.5L441.3 737.8"/></g>
<text x="1729.72" y="504.0" font-size="14.43" fill="#131722" textLength="49.98" lengthAdjust="spacingAndGlyphs">4600.00</text>
<text x="1729.72" y="460.0" font-size="14.43" fill="#131722" textLength="49.98" lengthAdjust="spacingAndGlyphs">4640.00</text>
<text x="1729.72" y="417.0" font-size="14.43" fill="#131722" textLength="49.98" lengthAdjust="spacingAndGlyphs">4680.00</text>
<text x="1729.72" y="373.0" font-size="14.43" fill="#131722" textLength="49.98" lengthAdjust="spacingAndGlyphs">4720.00</text>
<text x="1729.72" y="330.0" font-size="14.43" fill="#131722" textLength="49.98" lengthAdjust="spacingAndGlyphs">4760.00</text>
<text x="1729.72" y="286.0" font-size="14.43" fill="#131722" textLength="49.98" lengthAdjust="spacingAndGlyphs">4800.00</text>
<text x="1729.72" y="243.0" font-size="14.43" fill="#131722" textLength="49.98" lengthAdjust="spacingAndGlyphs">4840.00</text>
<text x="1729.72" y="199.0" font-size="14.43" fill="#131722" textLength="49.98" lengthAdjust="spacingAndGlyphs">4880.00</text>
<text x="1729.72" y="156.0" font-size="14.43" fill="#131722" textLength="49.98" lengthAdjust="spacingAndGlyphs">4920.00</text>
<text x="1729.72" y="112.0" font-size="14.43" fill="#131722" textLength="49.98" lengthAdjust="spacingAndGlyphs">4960.00</text>
<text x="1729.72" y="69.0" font-size="14.43" fill="#131722" textLength="49.98" lengthAdjust="spacingAndGlyphs">5000.00</text>
<text x="1729.72" y="25.0" font-size="14.43" fill="#131722" textLength="49.98" lengthAdjust="spacingAndGlyphs">5040.00</text>
<text x="1729.33" y="573.0" font-size="14.43" fill="#131722" textLength="35.89" lengthAdjust="spacingAndGlyphs">80.00</text>
<text x="1729.62" y="625.0" font-size="14.43" fill="#131722" textLength="35.60" lengthAdjust="spacingAndGlyphs">40.00</text>
<path d="M1719 174h66a2 2 0 0 1 2 2v17a2 2 0 0 1 -2 2h-66z" fill="#f23645"/>
<text x="1729.86" y="189.7" font-size="13.71" fill="#ffffff" font-weight="700" textLength="49.09" lengthAdjust="spacingAndGlyphs">4889.48</text>
<path d="M1719 242h66a2 2 0 0 1 2 2v17a2 2 0 0 1 -2 2h-66z" fill="#f23645"/>
<text x="1729.86" y="257.7" font-size="13.71" fill="#ffffff" font-weight="700" textLength="49.23" lengthAdjust="spacingAndGlyphs">4827.16</text>
<path d="M1719 293h66a2 2 0 0 1 2 2v17a2 2 0 0 1 -2 2h-66z" fill="#f23645"/>
<text x="1729.86" y="308.7" font-size="13.71" fill="#ffffff" font-weight="700" textLength="49.23" lengthAdjust="spacingAndGlyphs">4779.69</text>
<path d="M1719 380h66a2 2 0 0 1 2 2v17a2 2 0 0 1 -2 2h-66z" fill="#f23645"/>
<text x="1729.86" y="395.7" font-size="13.71" fill="#ffffff" font-weight="700" textLength="49.23" lengthAdjust="spacingAndGlyphs">4699.63</text>
<clipPath id="cs"><rect x="0" y="531" width="1791" height="145"/></clipPath>
<path d="M1719 648h51a2 2 0 0 1 2 2v17a2 2 0 0 1 -2 2h-51z" fill="#2196f3"/>
<text x="1729.14" y="663.7" font-size="13.71" fill="#ffffff" font-weight="700" textLength="35.98" lengthAdjust="spacingAndGlyphs">10.43</text>
<path d="M1719 668h44a2 2 0 0 1 2 2v17a2 2 0 0 1 -2 2h-44z" fill="#ff6d00" clip-path="url(#cs)"/>
<text x="1729.56" y="683.4" font-size="13.71" fill="#ffffff" font-weight="700" textLength="28.47" lengthAdjust="spacingAndGlyphs" clip-path="url(#cs)">9.50</text>
<text x="37.64" y="696.1" font-size="13.71" fill="#131722" textLength="14.80" lengthAdjust="spacingAndGlyphs">24</text>
<text x="128.33" y="696.1" font-size="13.71" fill="#131722" textLength="33.29" lengthAdjust="spacingAndGlyphs">12:00</text>
<text x="235.97" y="696.1" font-size="13.71" fill="#131722" font-weight="700" textLength="19.22" lengthAdjust="spacingAndGlyphs">Jul</text>
<text x="361.54" y="696.1" font-size="13.71" fill="#131722" textLength="7.40" lengthAdjust="spacingAndGlyphs">4</text>
<text x="482.54" y="696.1" font-size="13.71" fill="#131722" textLength="7.40" lengthAdjust="spacingAndGlyphs">9</text>
<text x="598.64" y="696.1" font-size="13.71" fill="#131722" textLength="14.80" lengthAdjust="spacingAndGlyphs">12</text>
<text x="718.64" y="696.1" font-size="13.71" fill="#131722" textLength="14.80" lengthAdjust="spacingAndGlyphs">17</text>
<text x="839.78" y="696.1" font-size="13.71" fill="#131722" textLength="14.80" lengthAdjust="spacingAndGlyphs">22</text>
<text x="959.71" y="696.1" font-size="13.71" fill="#131722" textLength="14.80" lengthAdjust="spacingAndGlyphs">25</text>
<text x="1050.33" y="696.1" font-size="13.71" fill="#131722" textLength="33.29" lengthAdjust="spacingAndGlyphs">12:00</text>
<text x="1155.54" y="696.1" font-size="13.71" fill="#131722" font-weight="700" textLength="25.86" lengthAdjust="spacingAndGlyphs">Aug</text>
<text x="1277.41" y="696.1" font-size="13.71" fill="#131722" textLength="7.40" lengthAdjust="spacingAndGlyphs">6</text>
<text x="1377.54" y="696.1" font-size="13.71" fill="#131722" textLength="7.40" lengthAdjust="spacingAndGlyphs">9</text>
<text x="1474.51" y="696.1" font-size="13.71" fill="#131722" textLength="14.80" lengthAdjust="spacingAndGlyphs">14</text>
<text x="1574.64" y="696.1" font-size="13.71" fill="#131722" textLength="14.80" lengthAdjust="spacingAndGlyphs">19</text>
<text x="1674.78" y="696.1" font-size="13.71" fill="#131722" textLength="14.80" lengthAdjust="spacingAndGlyphs">22</text>
<rect x="4" y="4" width="469" height="21" fill="#fff" fill-opacity="0.55"/>
<text x="8.70" y="19.9" font-size="15.71" fill="#131722" textLength="78.34" lengthAdjust="spacingAndGlyphs">Euro50 · 4h</text>
<circle cx="111" cy="14.2" r="9.2" fill="#089981" fill-opacity="0.14"/><circle cx="111" cy="14.2" r="4.4" fill="#089981"/>
<text x="135.51" y="19.8" font-size="12.43" fill="#131722" textLength="9.47" lengthAdjust="spacingAndGlyphs">O</text>
<text x="145.34" y="19.8" font-size="12.43" fill="#f23645" textLength="46.42" lengthAdjust="spacingAndGlyphs">4721.78</text>
<text x="197.13" y="19.8" font-size="12.43" fill="#131722" textLength="8.80" lengthAdjust="spacingAndGlyphs">H</text>
<text x="206.74" y="19.8" font-size="12.43" fill="#f23645" textLength="46.22" lengthAdjust="spacingAndGlyphs">4722.76</text>
<text x="258.73" y="19.8" font-size="12.43" fill="#131722" textLength="6.77" lengthAdjust="spacingAndGlyphs">L</text>
<text x="266.15" y="19.8" font-size="12.43" fill="#f23645" textLength="44.92" lengthAdjust="spacingAndGlyphs">4679.57</text>
<text x="317.49" y="19.8" font-size="12.43" fill="#131722" textLength="8.80" lengthAdjust="spacingAndGlyphs">C</text>
<text x="326.34" y="19.8" font-size="12.43" fill="#f23645" textLength="46.22" lengthAdjust="spacingAndGlyphs">4699.63</text>
<text x="378.29" y="19.8" font-size="12.43" fill="#f23645" textLength="39.09" lengthAdjust="spacingAndGlyphs">−22.72</text>
<text x="421.58" y="19.8" font-size="12.43" fill="#f23645" textLength="48.95" lengthAdjust="spacingAndGlyphs">(−0.48%)</text>
<rect x="8.5" y="30.5" width="61" height="37" rx="4" fill="#fff" stroke="#f23645"/>
<rect x="126.5" y="30.5" width="60" height="37" rx="4" fill="#fff" stroke="#089981"/>
<rect x="74" y="46" width="48" height="22" rx="4" fill="#f5f6fb"/>
<text x="15.75" y="54.1" font-size="12.57" fill="#f23645" textLength="45.61" lengthAdjust="spacingAndGlyphs">4699.63</text>
<text x="133.85" y="54.1" font-size="12.57" fill="#089981" textLength="45.38" lengthAdjust="spacingAndGlyphs">4700.94</text>
<text x="87.06" y="40.9" font-size="10.57" fill="#131722" textLength="20.52" lengthAdjust="spacingAndGlyphs">1.31</text>
<text x="81.88" y="60.9" font-size="12.36" fill="#131722" textLength="30.89" lengthAdjust="spacingAndGlyphs">600.1</text>
<text x="1556.54" y="390.0" font-size="12.14" fill="#4caf50" textLength="81.40" lengthAdjust="spacingAndGlyphs">0.382(4694.48)</text>
<clipPath id="cm"><rect x="0" y="0" width="1719" height="530"/></clipPath>
<text x="1557.35" y="536.2" font-size="12.14" fill="#4caf50" textLength="66.27" lengthAdjust="spacingAndGlyphs" clip-path="url(#cm)">0.5(4559.66)</text>
<rect x="6" y="539" width="148" height="17" fill="#fff" fill-opacity="0.6"/>
<text x="8.55" y="551.6" font-size="12.43" fill="#131722" textLength="32.56" lengthAdjust="spacingAndGlyphs">Stoch</text>
<text x="45.20" y="551.6" font-size="12.43" fill="#50535e" textLength="28.06" lengthAdjust="spacingAndGlyphs">5 3 3</text>
<text x="86.89" y="551.6" font-size="12.43" fill="#2196f3" textLength="32.37" lengthAdjust="spacingAndGlyphs">10.43</text>
<text x="125.68" y="551.6" font-size="12.43" fill="#ff6d00" textLength="25.39" lengthAdjust="spacingAndGlyphs">9.50</text>
<text x="15.56" y="733.9" font-size="12.00" fill="#6a6d78" textLength="61.84" lengthAdjust="spacingAndGlyphs">Powered by</text>
<text x="80.87" y="733.9" font-size="12.00" fill="#2196f3" textLength="64.44" lengthAdjust="spacingAndGlyphs">TradingView</text>
<rect x="81" y="735" width="64.5" height="1" fill="#2196f3"/>
<text x="174.80" y="735.9" font-size="14.00" fill="#131722" textLength="16.44" lengthAdjust="spacingAndGlyphs">1D</text>
<text x="204.99" y="735.9" font-size="14.00" fill="#131722" textLength="16.24" lengthAdjust="spacingAndGlyphs">5D</text>
<text x="234.00" y="735.9" font-size="14.00" fill="#131722" textLength="19.84" lengthAdjust="spacingAndGlyphs">1M</text>
<text x="266.10" y="735.9" font-size="14.00" fill="#131722" textLength="18.36" lengthAdjust="spacingAndGlyphs">3M</text>
<text x="296.70" y="735.9" font-size="14.00" fill="#131722" textLength="19.31" lengthAdjust="spacingAndGlyphs">6M</text>
<text x="328.30" y="735.9" font-size="14.00" fill="#131722" textLength="15.72" lengthAdjust="spacingAndGlyphs">1Y</text>
<text x="357.99" y="735.9" font-size="14.00" fill="#131722" textLength="15.52" lengthAdjust="spacingAndGlyphs">5Y</text>
<text x="387.60" y="735.9" font-size="14.00" fill="#131722" textLength="16.31" lengthAdjust="spacingAndGlyphs">All</text>
<text x="1553.25" y="736.1" font-size="14.00" fill="#131722" textLength="108.77" lengthAdjust="spacingAndGlyphs">10:16:03 (UTC+2)</text>
<text x="1691.14" y="736.0" font-size="14.00" fill="#131722" textLength="13.61" lengthAdjust="spacingAndGlyphs">%</text>
<text x="1718.89" y="736.0" font-size="14.00" fill="#131722" textLength="20.15" lengthAdjust="spacingAndGlyphs">log</text>
<text x="1751.92" y="736.0" font-size="14.00" fill="#131722" textLength="28.31" lengthAdjust="spacingAndGlyphs">auto</text>
</svg>

</body></html>
